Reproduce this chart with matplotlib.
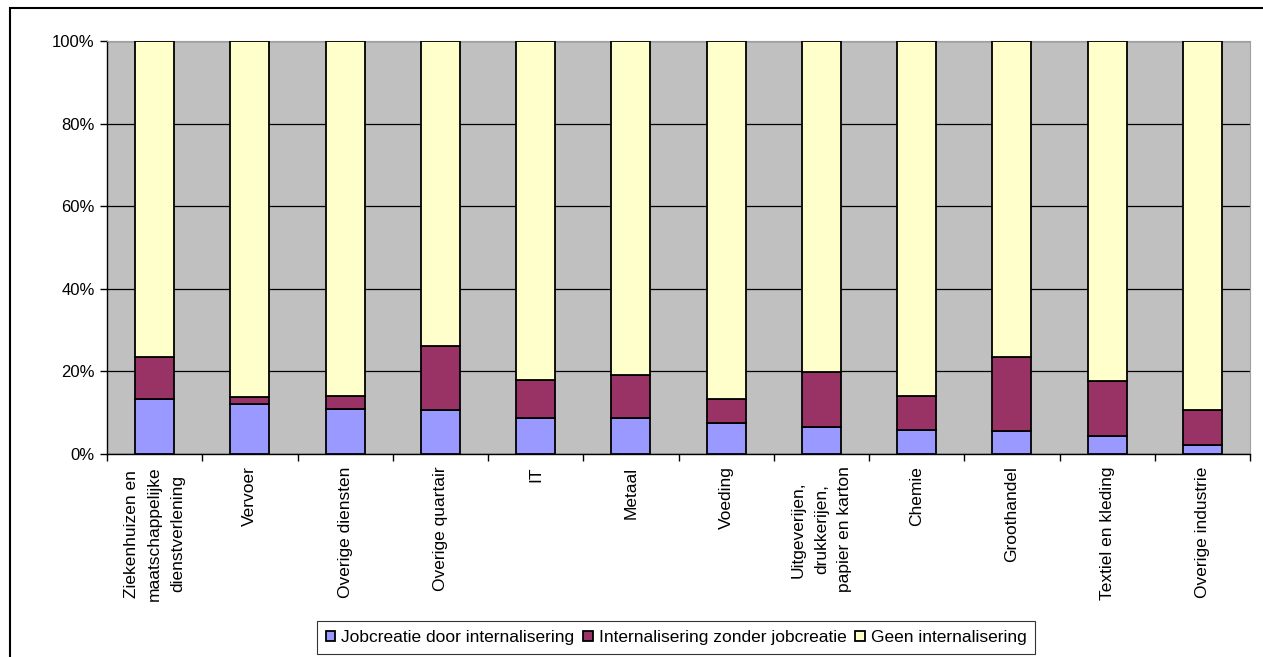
import matplotlib
matplotlib.use("Agg")
import matplotlib.pyplot as plt
from matplotlib.patches import Rectangle
from matplotlib.ticker import FuncFormatter
import numpy as np

plt.rcParams["font.family"] = ["Liberation Sans", "DejaVu Sans"]

categories = [
    "Ziekenhuizen en\nmaatschappelijke\ndienstverlening",
    "Vervoer",
    "Overige diensten",
    "Overige quartair",
    "IT",
    "Metaal",
    "Voeding",
    "Uitgeverijen,\ndrukkerijen,\npapier en karton",
    "Chemie",
    "Groothandel",
    "Textiel en kleding",
    "Overige industrie",
]
jobcreatie = [13.3, 12.1, 11.0, 10.6, 8.6, 8.6, 7.4, 6.6, 5.9, 5.5, 4.3, 2.3]
zonder_jobcreatie = [10.3, 1.7, 3.0, 15.6, 9.4, 10.6, 5.9, 13.3, 8.2, 18.1, 13.4, 8.3]
geen = [76.4, 86.2, 86.0, 73.8, 82.0, 80.8, 86.7, 80.1, 85.9, 76.4, 82.3, 89.4]

series = [
    ("Jobcreatie door internalisering", jobcreatie, "#9999FF"),
    ("Internalisering zonder jobcreatie", zonder_jobcreatie, "#993366"),
    ("Geen internalisering", geen, "#FFFFCC"),
]

W, H = 1263, 657
fig = plt.figure(figsize=(W / 100, H / 100), dpi=100)
ax = fig.add_axes([107 / W, 1 - 454 / H, (1250 - 107) / W, (454 - 41) / H])
ax.set_facecolor("#C0C0C0")

x = np.arange(len(categories))
bottom = np.zeros(len(categories))
for label, vals, color in series:
    vals = np.asarray(vals)
    ax.bar(x, vals, bottom=bottom, width=0.41, color=color, edgecolor="black",
           linewidth=1.3, label=label, zorder=3)
    bottom += vals

ax.set_ylim(0, 100)
ax.set_xlim(-0.5, len(categories) - 0.5)
ax.set_yticks(np.arange(0, 101, 20))
ax.yaxis.set_major_formatter(FuncFormatter(lambda v, p: f"{int(v)}%"))
ax.grid(axis="y", color="black", linewidth=0.9, zorder=1)
ax.set_axisbelow(True)

ax.set_xticks(x)
ax.set_xticklabels(categories, rotation=90, ha="center", va="top",
                   multialignment="center", fontsize=12.5)
for t in ax.get_xticklabels():
    t.set_linespacing(1.65)
ax.set_xticks(np.arange(-0.5, len(categories), 1.0), minor=True)
ax.tick_params(axis="x", which="major", length=0, pad=9)
ax.tick_params(axis="x", which="minor", length=5, width=1, direction="out")
ax.tick_params(axis="y", length=5, width=1, direction="out", labelsize=12, pad=4)

for side in ("top", "right"):
    ax.spines[side].set_color("#A0A0A0")
for side in ("left", "bottom"):
    ax.spines[side].set_color("black")
    ax.spines[side].set_linewidth(1)

leg = ax.legend(loc="center", bbox_to_anchor=(676 / W, 1 - 637.5 / H),
                bbox_transform=fig.transFigure, ncol=3, frameon=True,
                fancybox=False, edgecolor="black", fontsize=12.5,
                handlelength=0.55, handleheight=0.55, handletextpad=0.35,
                columnspacing=0.5, borderpad=0.5)
leg.get_frame().set_linewidth(0.8)

fig.add_artist(Rectangle((10 / W, -0.1), 1.2, 1.1 - 8 / H,
                         transform=fig.transFigure, fill=False,
                         edgecolor="black", linewidth=1.5))

fig.savefig("out.png", dpi=100)
